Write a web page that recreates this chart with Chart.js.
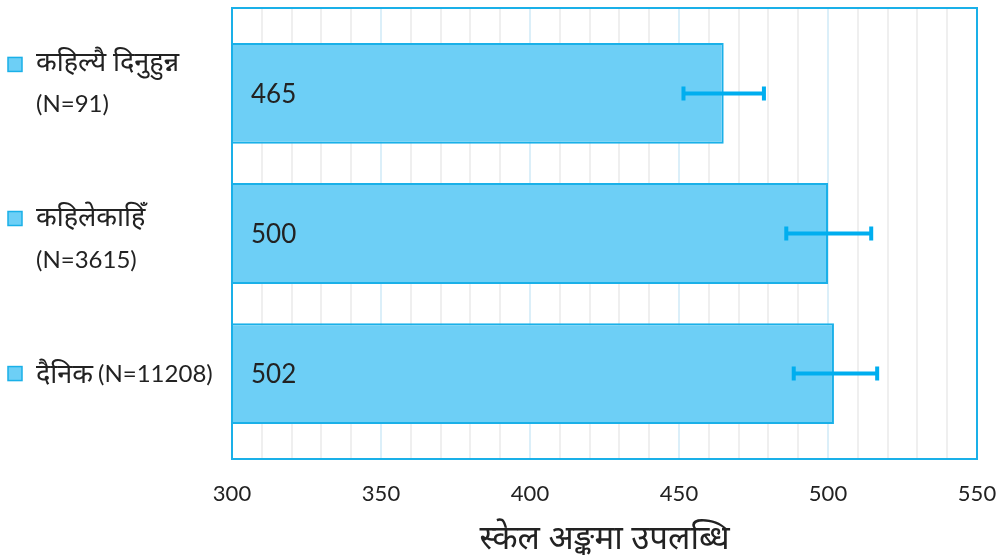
<!DOCTYPE html>
<html><head><meta charset="utf-8">
<script src="https://cdn.jsdelivr.net/npm/chart.js@4/dist/chart.umd.min.js"></script>
<style>html,body{margin:0;padding:0;background:#fff}#wrap{width:999px;height:558px}</style>
</head><body><div id="wrap"><canvas id="c" width="999" height="558"></canvas></div>
<script>
const categories = [["कहिल्यै दिनुहुन्न", "(N=91)"], ["कहिलेकाहिँ", "(N=3615)"], ["दैनिक", "(N=11208)"]];
const scores = [465, 500, 502];
const errLow = [451.5, 486, 488.5];
const errHigh = [478.5, 514.5, 516.5];
const xTicks = [300, 350, 400, 450, 500, 550];
const axisTitle = "स्केल अङ्कमा उपलब्धि";

const FONT = "Lato, 'Noto Sans', 'Noto Sans Devanagari', 'Lohit Devanagari', 'FreeSans', sans-serif";
const BLUE = '#1ab0e8';
const FILL = '#6dcff6';

const labelLayout = [
  { l1: -31, l2: 11, inline: false, sq: -29 },
  { l1: -16, l2: 27, inline: false, sq: -15 },
  { l1: 1, l2: 1, inline: true, sq: 0 }
];

const overlay = {
  id: 'overlay',
  afterDatasetsDraw(chart) {
    const ctx = chart.ctx, x = chart.scales.x, y = chart.scales.y, a = chart.chartArea;
    ctx.save();
    // error bars
    ctx.strokeStyle = '#00aeef';
    scores.forEach((v, i) => {
      const cy = y.getPixelForValue(i);
      const x1 = x.getPixelForValue(errLow[i]), x2 = x.getPixelForValue(errHigh[i]);
      ctx.lineWidth = 4;
      ctx.beginPath();
      ctx.moveTo(x1, cy); ctx.lineTo(x2, cy);
      ctx.stroke();
      ctx.beginPath();
      ctx.moveTo(x1, cy - 7); ctx.lineTo(x1, cy + 7);
      ctx.moveTo(x2, cy - 7); ctx.lineTo(x2, cy + 7);
      ctx.stroke();
    });
    // value labels
    ctx.fillStyle = '#222';
    ctx.font = "26px " + FONT;
    ctx.textBaseline = 'middle';
    ctx.textAlign = 'left';
    scores.forEach((v, i) => {
      ctx.fillText(String(v), a.left + 19, y.getPixelForValue(i) + 1);
    });
    // frame
    ctx.strokeStyle = BLUE;
    ctx.lineWidth = 2;
    ctx.strokeRect(a.left, a.top, a.right - a.left, a.bottom - a.top);
    // category labels with square markers
    categories.forEach((lab, i) => {
      const cy = y.getPixelForValue(i);
      const L = labelLayout[i];
      ctx.fillStyle = '#222';
      ctx.font = "27px " + FONT;
      ctx.fillText(lab[0], 36, cy + L.l1);
      let x2 = 36;
      if (L.inline) x2 = 36 + ctx.measureText(lab[0]).width + 5;
      ctx.font = "24px " + FONT;
      ctx.fillText(lab[1], x2, cy + L.l2);
      const sy = cy + L.sq;
      ctx.fillStyle = FILL;
      ctx.fillRect(8, sy - 7, 14, 14);
      ctx.strokeStyle = BLUE; ctx.lineWidth = 1.5;
      ctx.strokeRect(8, sy - 7, 14, 14);
    });
    ctx.restore();
  }
};

new Chart(document.getElementById('c'), {
  type: 'bar',
  data: {
    labels: categories.map(c => c.join(' ')),
    datasets: [{
      data: scores.map((v, i) => ({ x: v, y: i })),
      backgroundColor: FILL,
      borderColor: BLUE,
      borderWidth: 2,
      borderSkipped: false,
      barPercentage: 0.72,
      categoryPercentage: 1.0
    }]
  },
  options: {
    indexAxis: 'y',
    responsive: false,
    animation: false,
    layout: { padding: { left: 232, right: 22, top: 8, bottom: 0 } },
    plugins: { legend: { display: false }, tooltip: { enabled: false } },
    scales: {
      y: {
        type: 'linear', display: false, reverse: true, offset: false,
        min: -0.61, max: 2.61,
        afterBuildTicks(s) { s.ticks = categories.map((_, i) => ({ value: i })); }
      },
      x: {
        min: 300, max: 550,
        afterFit(s) { s.height = 99; s.paddingLeft = 0; s.paddingRight = 0; },
        border: { display: false },
        grid: {
          drawTicks: false,
          lineWidth: 2,
          color: c => (c.tick && c.tick.value % 50 === 0) ? '#dbeff9' : '#efefef'
        },
        ticks: {
          stepSize: 10,
          padding: 22,
          autoSkip: false,
          maxRotation: 0,
          color: '#222',
          font: { family: FONT, size: 22 },
          callback: v => xTicks.includes(v) ? String(v) : ''
        },
        title: {
          display: true,
          text: axisTitle,
          color: '#222',
          font: { family: FONT, size: 33 },
          padding: { top: 0, bottom: 0 }
        }
      }
    }
  },
  plugins: [overlay]
});
</script></body></html>
